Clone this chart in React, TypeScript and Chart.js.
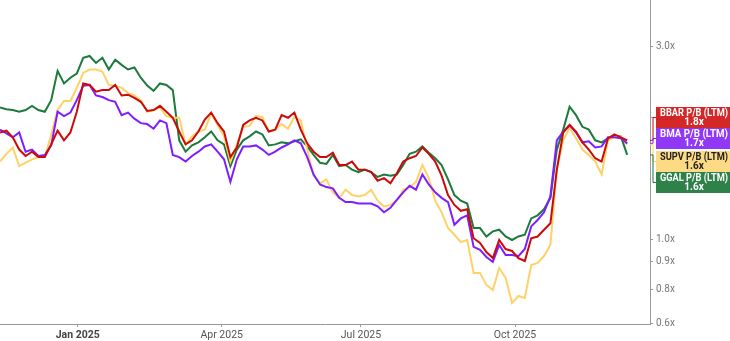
import React, { useEffect, useRef } from 'react';
import { Chart, registerables, LogarithmicScale } from 'chart.js';

// ---------------- data ----------------
const SERIES_NAMES = ['BBAR P/B (LTM)', 'BMA P/B (LTM)', 'SUPV P/B (LTM)', 'GGAL P/B (LTM)'];
const END_LABELS = ['1.8x', '1.7x', '1.6x', '1.6x'];

const BBAR = [
  1.84, 1.86, 1.79, 1.67, 1.61, 1.65, 1.60, 1.60, 1.72, 1.86,
  1.76, 1.84, 2.07, 2.43, 2.41, 2.32, 2.34, 2.34, 2.41, 2.27,
  2.28, 2.24, 2.19, 2.08, 2.09, 2.14, 2.07, 2.00, 1.85, 1.72,
  1.76, 1.85, 1.98, 2.06, 1.94, 1.85, 1.60, 1.69, 1.92, 1.97,
  2.00, 1.97, 1.85, 1.87, 2.03, 2.00, 2.06, 1.87, 1.73, 1.65,
  1.60, 1.60, 1.64, 1.53, 1.53, 1.56, 1.49, 1.49, 1.47, 1.40,
  1.42, 1.38, 1.46, 1.56, 1.59, 1.61, 1.69, 1.63, 1.56, 1.44,
  1.29, 1.22, 1.18, 1.19, 1.01, 0.986, 0.943, 0.916, 1.00, 0.957,
  0.948, 0.916, 0.903, 1.01, 1.02, 1.06, 1.10, 1.49, 1.84, 1.92,
  1.85, 1.74, 1.67, 1.59, 1.56, 1.78, 1.82, 1.79, 1.76,
];
const BMA = [
  1.87, 1.83, 1.79, 1.84, 1.65, 1.67, 1.61, 1.62, 1.71, 2.07,
  2.02, 2.06, 2.21, 2.40, 2.41, 2.27, 2.25, 2.21, 2.19, 2.03,
  2.06, 1.99, 1.94, 1.93, 1.88, 1.97, 1.94, 1.62, 1.60, 1.56,
  1.61, 1.65, 1.70, 1.72, 1.65, 1.58, 1.39, 1.58, 1.70, 1.70,
  1.71, 1.67, 1.62, 1.65, 1.69, 1.72, 1.76, 1.73, 1.60, 1.45,
  1.37, 1.35, 1.34, 1.27, 1.24, 1.24, 1.23, 1.23, 1.23, 1.21,
  1.17, 1.20, 1.255, 1.31, 1.36, 1.33, 1.45, 1.37, 1.31, 1.27,
  1.24, 1.09, 1.13, 1.15, 0.967, 0.953, 0.921, 0.899, 0.976, 0.930,
  0.930, 0.925, 0.957, 1.08, 1.12, 1.17, 1.28, 1.76, 1.85, 1.92,
  1.84, 1.74, 1.75, 1.69, 1.70, 1.79, 1.79, 1.78, 1.73,
];
const SUPV = [
  1.56, 1.63, 1.69, 1.52, 1.55, 1.58, 1.60, 1.60, 1.82, 2.09,
  2.20, 2.20, 2.37, 2.58, 2.63, 2.63, 2.60, 2.41, 2.40, 2.37,
  2.30, 2.27, 2.21, 2.07, 2.09, 2.12, 2.02, 2.00, 2.00, 1.72,
  1.80, 1.85, 1.87, 2.05, 1.92, 1.80, 1.56, 1.72, 1.90, 1.91,
  2.02, 2.01, 1.85, 1.87, 1.93, 1.88, 2.01, 1.97, 1.67, 1.44,
  1.38, 1.41, 1.31, 1.27, 1.33, 1.29, 1.28, 1.29, 1.33, 1.25,
  1.21, 1.22, 1.25, 1.33, 1.35, 1.39, 1.53, 1.42, 1.25, 1.17,
  1.07, 1.03, 0.990, 1.00, 0.858, 0.858, 0.815, 0.795, 0.876, 0.840,
  0.712, 0.756, 0.743, 0.887, 0.895, 0.925, 0.976, 1.49, 1.76, 1.89,
  1.78, 1.67, 1.62, 1.56, 1.45, 1.76, 1.79, 1.80, 1.72,
];
const GGAL = [
  2.12, 2.10, 2.09, 2.07, 2.09, 2.14, 2.09, 2.07, 2.21, 2.61,
  2.43, 2.51, 2.57, 2.81, 2.84, 2.73, 2.81, 2.63, 2.78, 2.70,
  2.63, 2.66, 2.51, 2.40, 2.33, 2.43, 2.41, 2.34, 1.76, 1.65,
  1.71, 1.74, 1.79, 1.85, 1.76, 1.72, 1.52, 1.67, 1.76, 1.80,
  1.85, 1.82, 1.71, 1.72, 1.74, 1.73, 1.75, 1.77, 1.70, 1.62,
  1.55, 1.54, 1.62, 1.52, 1.53, 1.49, 1.47, 1.49, 1.47, 1.43,
  1.45, 1.44, 1.45, 1.53, 1.63, 1.65, 1.70, 1.64, 1.59, 1.53,
  1.41, 1.29, 1.25, 1.23, 1.07, 1.07, 1.02, 1.05, 1.06, 1.02,
  1.00, 1.02, 1.03, 1.13, 1.15, 1.19, 1.27, 1.67, 1.87, 2.13,
  2.03, 1.90, 1.87, 1.76, 1.74, 1.78, 1.80, 1.80, 1.62,
];

// x-axis: observation index; month ticks sit at fractional index positions
const X_TICK_POS = [12.14, 34.64, 56.4, 80.47];
const X_TICK_LABELS = ['Jan 2025', 'Apr 2025', 'Jul 2025', 'Oct 2025'];
const X_MAX = 101.56;
const Y_TICKS = [0.6, 0.8, 0.9, 1.0, 2.0, 3.0];

const LINE_COLORS = ['#cc0a0a', '#7f1dff', '#ffd166', '#1c7a3b'];
const BOX_COLORS = ['#d11a1a', '#8a2cf6', '#fdd87c', '#22793f'];
const BOX_TEXT = ['#ffffff', '#ffffff', '#222222', '#ffffff'];

// ---------------- scale with the reference's non-uniform log spacing ----------------
const ANCHOR_VALUES = [0.6, 0.8, 0.9, 1.0, 3.0];
const ANCHOR_FRACS = [0.0022, 0.1071, 0.1923, 0.2593, 0.8571];
const ANCHOR_LOGS = ANCHOR_VALUES.map((v) => Math.log10(v));

function warpFraction(v: number): number {
  const L = Math.log10(v);
  const n = ANCHOR_LOGS.length;
  let k = 0;
  if (L >= ANCHOR_LOGS[n - 1]) k = n - 2;
  else {
    for (let i = 0; i < n - 1; i++) {
      if (L >= ANCHOR_LOGS[i]) k = i;
    }
  }
  const slope = (ANCHOR_FRACS[k + 1] - ANCHOR_FRACS[k]) / (ANCHOR_LOGS[k + 1] - ANCHOR_LOGS[k]);
  return ANCHOR_FRACS[k] + (L - ANCHOR_LOGS[k]) * slope;
}
function unwarpFraction(f: number): number {
  const n = ANCHOR_FRACS.length;
  let k = 0;
  if (f >= ANCHOR_FRACS[n - 1]) k = n - 2;
  else {
    for (let i = 0; i < n - 1; i++) {
      if (f >= ANCHOR_FRACS[i]) k = i;
    }
  }
  const slope = (ANCHOR_LOGS[k + 1] - ANCHOR_LOGS[k]) / (ANCHOR_FRACS[k + 1] - ANCHOR_FRACS[k]);
  return Math.pow(10, ANCHOR_LOGS[k] + (f - ANCHOR_FRACS[k]) * slope);
}

class WarpLogScale extends LogarithmicScale {
  static id = 'warplog';
  static defaults = LogarithmicScale.defaults;
  getPixelForValue(value: any) {
    if (value === null || value === undefined || isNaN(value) || value <= 0) return NaN;
    return this.getPixelForDecimal(warpFraction(value));
  }
  getValueForPixel(pixel: number) {
    return unwarpFraction(this.getDecimalForPixel(pixel));
  }
}

Chart.register(...registerables, WarpLogScale as any);

const endLabelPlugin = {
  id: 'endLabels',
  afterDraw(chart: any) {
    const ctx = chart.ctx;
    const area = chart.chartArea;
    const yScale = chart.scales.y;
    const boxTops = [107, 128, 151, 172];
    const boxH = 21;
    const boxLeft = area.right + 6;
    const boxRight = 734;
    const series = [BBAR, BMA, SUPV, GGAL];
    ctx.save();
    series.forEach((s, i) => {
      const yv = yScale.getPixelForValue(s[s.length - 1]);
      const cy = boxTops[i] + boxH / 2;
      ctx.strokeStyle = LINE_COLORS[i];
      ctx.lineWidth = 1;
      ctx.beginPath();
      ctx.moveTo(area.right, yv);
      ctx.lineTo(area.right + 3, yv);
      ctx.lineTo(area.right + 3, cy);
      ctx.lineTo(boxLeft, cy);
      ctx.stroke();
    });
    series.forEach((s, i) => {
      const top = boxTops[i];
      ctx.globalAlpha = 0.94;
      ctx.fillStyle = BOX_COLORS[i];
      ctx.fillRect(boxLeft, top, boxRight - boxLeft, boxH);
      ctx.globalAlpha = 1;
      ctx.fillStyle = BOX_TEXT[i];
      ctx.textAlign = 'center';
      ctx.textBaseline = 'middle';
      ctx.font = 'bold 10px Roboto, Arial, sans-serif';
      const cx = 694;
      ctx.fillText(SERIES_NAMES[i], cx, top + 6.5, 68);
      ctx.fillText(END_LABELS[i], cx, top + 15.5);
    });
    ctx.restore();
  },
};

export default function App() {
  const ref = useRef<HTMLCanvasElement | null>(null);
  useEffect(() => {
    if (!ref.current) return;
    const series = [BBAR, BMA, SUPV, GGAL];
    const chart = new Chart(ref.current, {
      type: 'line',
      data: {
        datasets: series.map((s, i) => ({
          label: SERIES_NAMES[i],
          data: s.map((v, j) => ({ x: j, y: v })),
          borderColor: LINE_COLORS[i],
          backgroundColor: LINE_COLORS[i],
          borderWidth: 2,
          pointRadius: 0,
          tension: 0,
          fill: false,
        })),
      },
      options: {
        animation: false,
        responsive: false,
        devicePixelRatio: 1,
        layout: { padding: 0 },
        plugins: { legend: { display: false }, tooltip: { enabled: false } },
        events: [],
        scales: {
          x: {
            type: 'linear',
            min: 0,
            max: X_MAX,
            bounds: 'data',
            grid: { display: true, drawOnChartArea: false, drawTicks: true, tickLength: 3, color: '#999999' },
            border: { display: true, color: '#9a9a9a', width: 1 },
            afterBuildTicks: (scale: any) => {
              scale.ticks = X_TICK_POS.map((v) => ({ value: v }));
            },
            afterFit: (scale: any) => {
              scale.height = 17;
              scale.paddingLeft = 0;
              scale.paddingRight = 0;
            },
            ticks: {
              autoSkip: false,
              maxRotation: 0,
              padding: 2,
              color: (c: any) => (c.tick && c.tick.label === 'Jan 2025' ? '#444444' : '#555555'),
              font: (c: any) => ({
                family: 'Roboto, Arial, sans-serif',
                size: 10.5,
                weight: c.tick && c.tick.label === 'Jan 2025' ? 'bold' : 'normal',
              }),
              callback: (_v: any, idx: number) => X_TICK_LABELS[idx],
            },
          },
          y: {
            type: 'warplog' as any,
            position: 'right',
            min: 0.59,
            max: 3.9,
            bounds: 'data',
            grid: { display: true, drawOnChartArea: false, drawTicks: true, tickLength: 3, color: '#999999' },
            border: { display: true, color: '#9a9a9a', width: 1 },
            afterBuildTicks: (scale: any) => {
              scale.ticks = Y_TICKS.map((v) => ({ value: v }));
            },
            afterFit: (scale: any) => {
              scale.width = 80;
              scale.paddingTop = 0;
              scale.paddingBottom = 0;
            },
            ticks: {
              autoSkip: false,
              padding: 3,
              color: '#777777',
              font: { family: 'Roboto, Arial, sans-serif', size: 10 },
              callback: (v: any) => Number(v).toFixed(1) + 'x',
            },
          },
        },
      } as any,
      plugins: [endLabelPlugin],
    });
    return () => chart.destroy();
  }, []);
  return (
    <div style={{ position: 'fixed', left: 0, top: 0, width: 730, height: 341, background: '#ffffff' }}>
      <canvas ref={ref} width={730} height={341} style={{ display: 'block' }} />
    </div>
  );
}
